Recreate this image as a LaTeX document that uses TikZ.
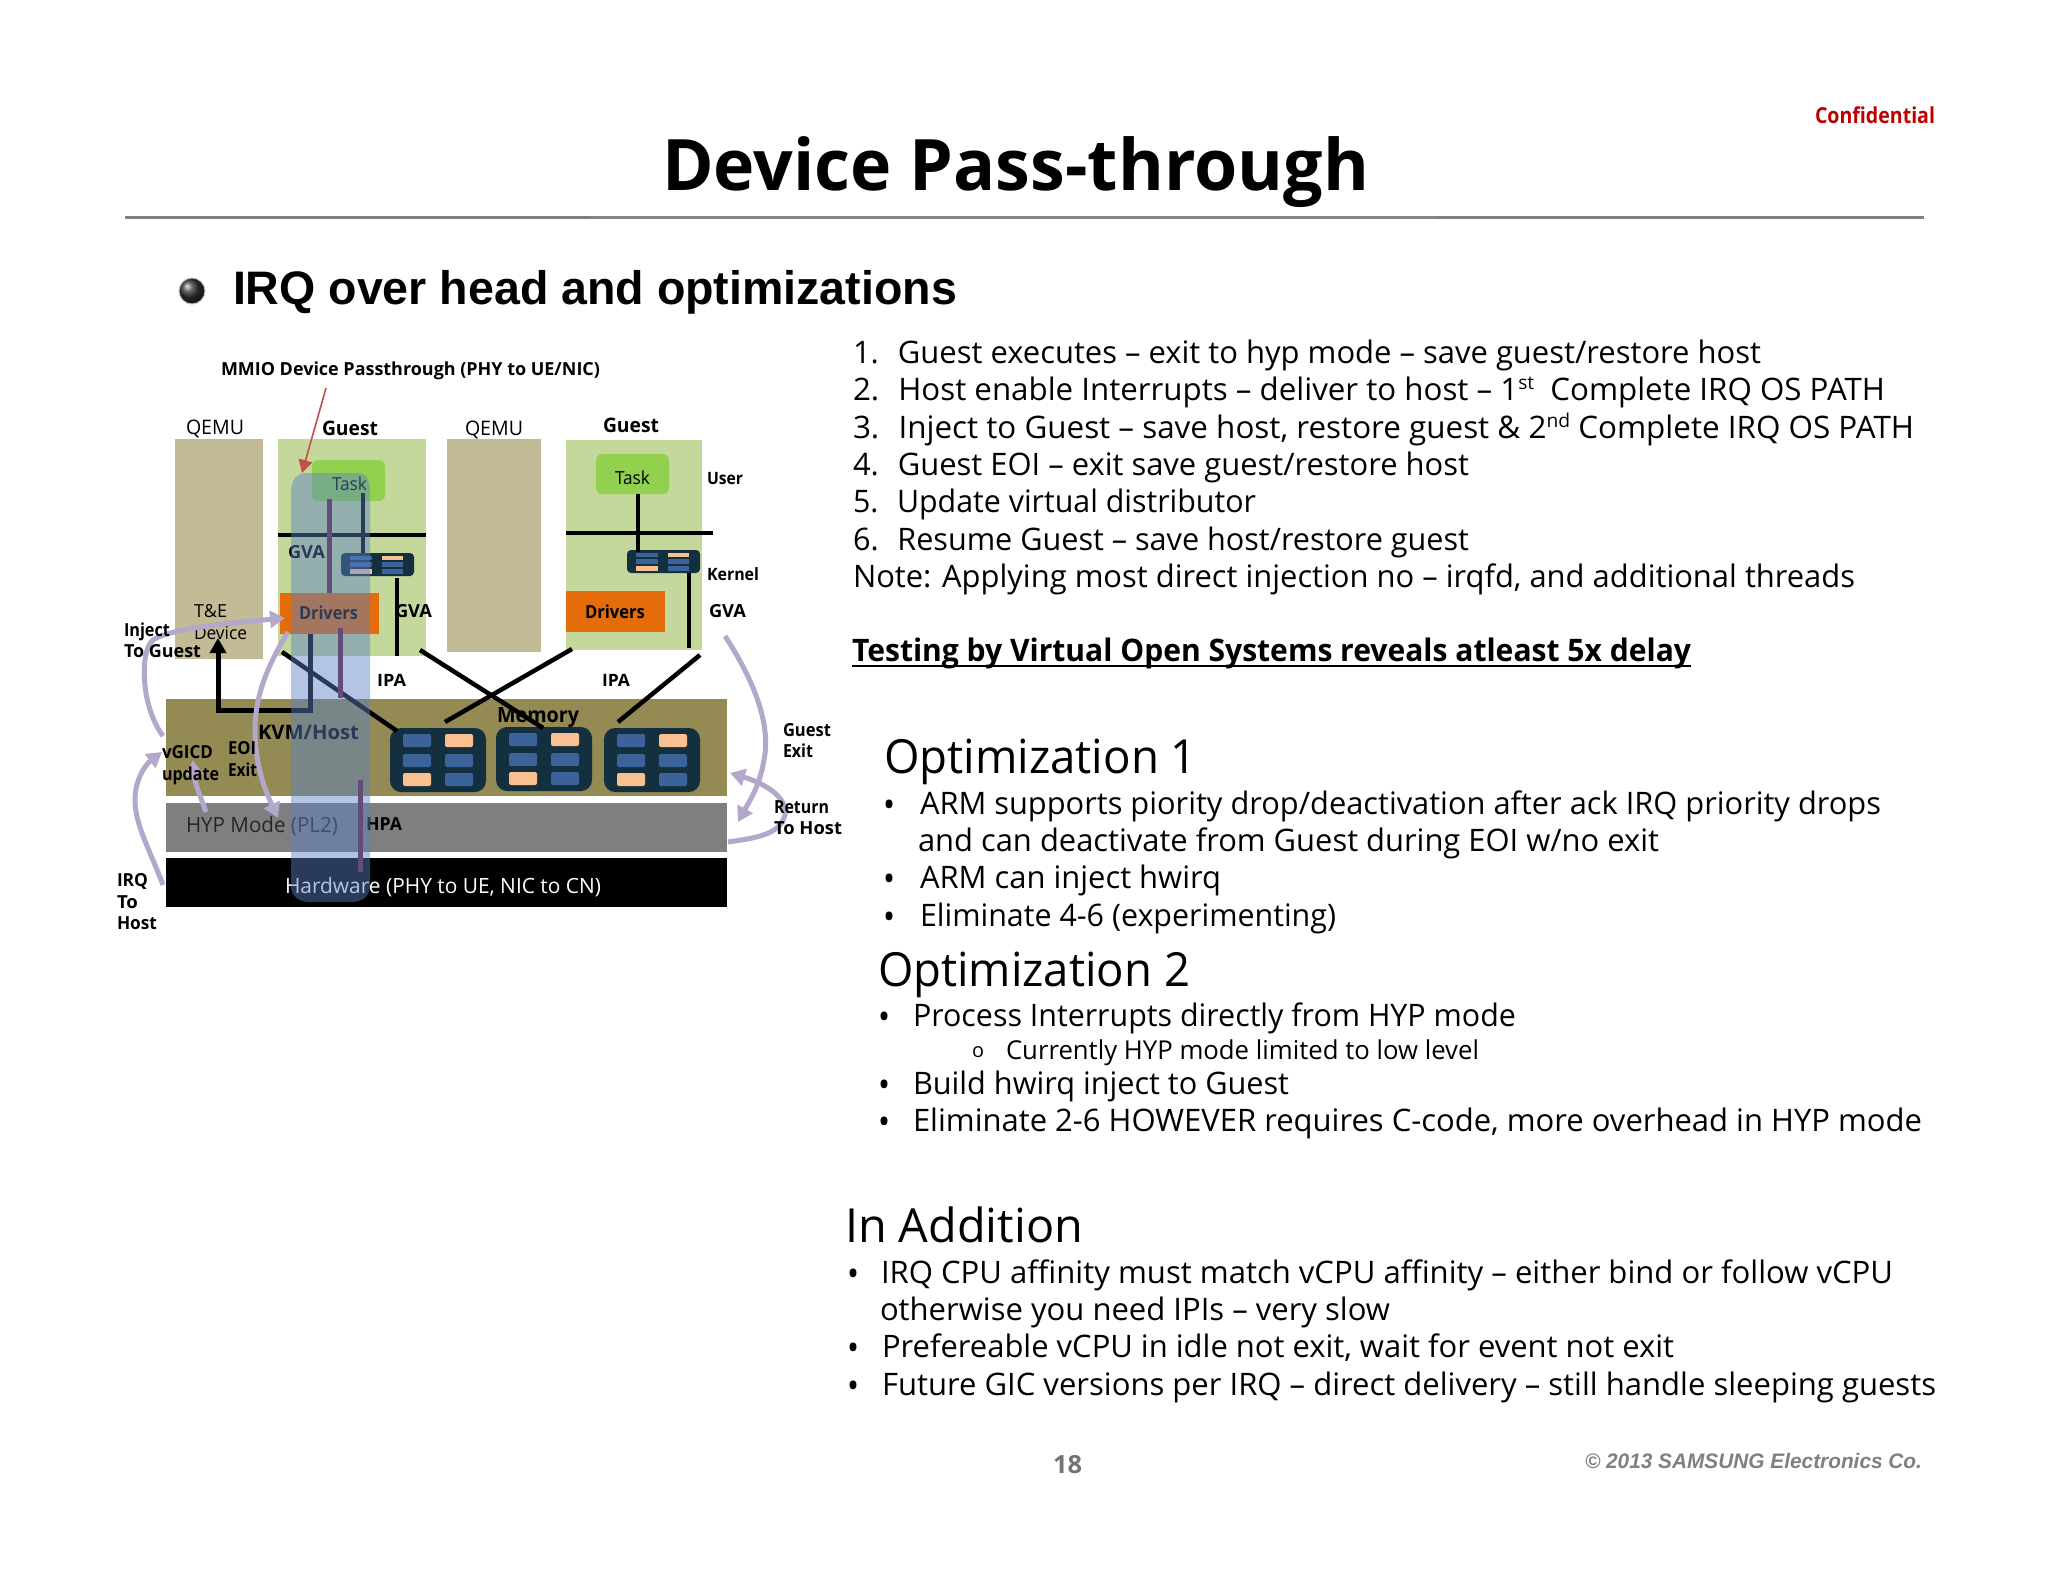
\documentclass[tikz,border=0pt]{standalone}
\usepackage{fontspec}
\setmainfont{Open Sans}
\newfontfamily\arialf{Liberation Sans}
\usetikzlibrary{arrows.meta}
\definecolor{qemuc}{HTML}{C3BB95}
\definecolor{guestc}{HTML}{C5D89C}
\definecolor{taskc}{HTML}{92D050}
\definecolor{orangec}{HTML}{E46C0A}
\definecolor{bandc}{HTML}{948A54}
\definecolor{hypc}{HTML}{7F7F7F}
\definecolor{chipc}{HTML}{14303E}
\definecolor{cellb}{HTML}{3B6399}
\definecolor{cello}{HTML}{FAC090}
\definecolor{arrowc}{HTML}{B3A8CC}
\definecolor{overc}{HTML}{5B82C4}
\definecolor{pline}{HTML}{644C78}
\definecolor{confc}{HTML}{C00000}
\newcommand\fs[1]{\fontsize{#1}{#1}\selectfont}
\newsavebox\fitbox
% name, x, baseline y, x end, font commands, text
\newcommand\tx[6]{%
  \node[anchor=base west,inner sep=0pt,outer sep=0pt] (#1) at (#2,#3) {%
    \sbox\fitbox{#5#6}%
    \pgfmathsetmacro\fitr{(#4-#2)/\the\wd\fitbox}%
    \scalebox{\fitr}[1]{\usebox\fitbox}};}
% name, x1, y1, x2, y2, style
\newcommand\bx[6]{%
  \node[boxn,minimum width={((#4)-(#2))*1pt},minimum height={((#5)-(#3))*1pt},#6] (#1) at ({((#2)+(#4))/2},{((#3)+(#5))/2}) {};}
% full chip: name, x, y
\newcommand\chip[3]{%
  \bx{#1}{#2}{#3}{#2+96}{#3+64}{fill=chipc,rounded corners=11pt}
  \bx{#1a}{#2+13}{#3+6}{#2+41}{#3+19}{cellbs}
  \bx{#1b}{#2+55}{#3+6}{#2+83}{#3+19}{cellos}
  \bx{#1c}{#2+13}{#3+26}{#2+41}{#3+39}{cellbs}
  \bx{#1d}{#2+55}{#3+26}{#2+83}{#3+39}{cellbs}
  \bx{#1e}{#2+13}{#3+45}{#2+41}{#3+58}{cellos}
  \bx{#1f}{#2+55}{#3+45}{#2+83}{#3+58}{cellbs}}
% mini chip
\newcommand\mini[3]{%
  \bx{#1}{#2}{#3}{#2+73}{#3+23}{fill=chipc,rounded corners=4pt}
  \bx{#1a}{#2+9}{#3+3}{#2+31}{#3+7}{fill=cellb}
  \bx{#1b}{#2+41}{#3+3}{#2+62}{#3+7}{fill=cello}
  \bx{#1c}{#2+9}{#3+9}{#2+31}{#3+14}{fill=cellb}
  \bx{#1d}{#2+41}{#3+9}{#2+62}{#3+14}{fill=cellb}
  \bx{#1e}{#2+9}{#3+16}{#2+31}{#3+21}{fill=cello}
  \bx{#1f}{#2+41}{#3+16}{#2+62}{#3+21}{fill=cellb}}
\tikzset{
  boxn/.style={inner sep=0pt,outer sep=0pt,draw=none},
  cellbs/.style={fill=cellb,rounded corners=2pt},
  cellos/.style={fill=cello,rounded corners=2pt},
  blk/.style={line width=4.5pt,black},
  purp/.style={line width=5pt,pline},
  lilac/.style={line width=5pt,arrowc,-{Triangle[length=15pt,width=17pt]}},
}
\begin{document}
\begin{tikzpicture}[x=1pt,y=-1pt]
\fill[white] (0,0) rectangle (2048,1582);
\useasboundingbox (0,0) rectangle (2048,1582);

% ---- title block
\tx{title}{662}{190}{1369}{\bfseries\fs{71}}{Device Pass-through}
\tx{conf}{1815}{123}{1935}{\bfseries\color{confc}\fs{22}}{Confidential}
\coordinate (r1) at (125,217); \coordinate (r2) at (590,217);
\coordinate (r3) at (1438,217); \coordinate (r4) at (1924,217);
\draw[line width=3pt,hypc] (r1) -- (r2);
\draw[line width=3pt,black!48] (r2) -- (r3);
\draw[line width=3pt,hypc] (r3) -- (r4);
\node[circle,minimum size=26pt,inner sep=0pt,draw=black!25,line width=1pt,
  ball color=black!80] (ball) at (192,291) {};
\tx{head}{233}{304}{957}{\arialf\bfseries\fs{47}}{IRQ over head and optimizations}

% ---- diagram boxes
\bx{q1}{175}{439}{263}{659}{fill=qemuc}
\bx{g1}{278}{439}{426}{656}{fill=guestc}
\bx{q2}{447}{439}{541}{652}{fill=qemuc}
\bx{g2}{566}{440}{702}{650}{fill=guestc}
\bx{t1}{312}{460}{385}{501}{fill=taskc,rounded corners=6pt}
\bx{t2}{596}{454}{669}{494}{fill=taskc,rounded corners=6pt}
\bx{d1}{280}{593}{379}{634}{fill=orangec}
\bx{d2}{566}{591}{665}{632}{fill=orangec}
\bx{kvm}{166}{699}{727}{796}{fill=bandc}
\bx{hyp}{166}{803}{727}{852}{fill=hypc}
\bx{hw}{166}{858}{727}{907}{fill=black}

% ---- memory
\chip{ca}{390}{728}
\chip{cb}{496}{727}
\chip{cc}{604}{728}
\mini{ma}{341}{553}
\mini{mb}{627}{550}

% ---- texts in the diagram
\tx{mmio}{221}{375}{600}{\bfseries\fs{18}}{MMIO Device Passthrough (PHY to UE/NIC)}
\tx{lq1}{186}{434}{244}{\fs{20}}{QEMU}
\tx{lg1}{322}{435}{378}{\bfseries\fs{20}}{Guest}
\tx{lq2}{465}{435}{523}{\fs{20}}{QEMU}
\tx{lg2}{603}{432}{659}{\bfseries\fs{20}}{Guest}
\tx{lt1}{332}{490}{367}{\fs{18}}{Task}
\tx{lt2}{615}{484}{650}{\fs{18}}{Task}
\tx{luser}{707}{484}{743}{\bfseries\fs{17}}{User}
\tx{lkern}{707}{580}{759}{\bfseries\fs{17}}{Kernel}
\tx{lgva1}{288}{558}{325}{\bfseries\fs{18}}{GVA}
\tx{lgva2}{395}{617}{432}{\bfseries\fs{18}}{GVA}
\tx{lgva3}{709}{617}{746}{\bfseries\fs{18}}{GVA}
\tx{lte}{194}{617}{227}{\fs{18}}{T\&E}
\tx{ldev}{194}{639}{247}{\fs{18}}{Device}
\tx{ldr1}{299}{619}{358}{\bfseries\fs{18}}{Drivers}
\tx{ldr2}{585}{618}{645}{\bfseries\fs{18}}{Drivers}
\tx{lipa1}{377}{686}{406}{\bfseries\fs{17}}{IPA}
\tx{lipa2}{602}{686}{630}{\bfseries\fs{17}}{IPA}
\tx{lmem}{497}{722}{579}{\bfseries\fs{21}}{Memory}
\tx{lkvm}{258}{739}{359}{\bfseries\fs{20}}{KVM/Host}
\tx{lhyp}{186}{832}{338}{\color{black!85}\fs{21}}{HYP Mode (PL2)}
\tx{lhpa}{366}{830}{402}{\bfseries\fs{18}}{HPA}
\tx{lhw}{285}{893}{601}{\color{white}\fs{21}}{Hardware (PHY to UE, NIC to CN)}
\tx{lirq}{117}{886}{148}{\bfseries\fs{18}}{IRQ}
\tx{lto}{117}{908}{138}{\bfseries\fs{18}}{To}
\tx{lhost}{117}{929}{157}{\bfseries\fs{18}}{Host}
\tx{lge}{783}{736}{831}{\bfseries\fs{18}}{Guest}
\tx{lgx}{783}{757}{813}{\bfseries\fs{18}}{Exit}

% ---- black connectors
\coordinate (h1a) at (278,535); \coordinate (h1b) at (426,535);
\coordinate (h2a) at (566,533); \coordinate (h2b) at (713,533);
\draw[blk] (h1a) -- (h1b);
\draw[blk] (h2a) -- (h2b);
\coordinate (l1a) at (363,493); \coordinate (l1b) at (363,553);
\draw[blk] (l1a) -- (l1b);
\coordinate (l2a) at (397,578); \coordinate (l2b) at (397,656);
\draw[blk] (l2a) -- (l2b);
\coordinate (l3a) at (638,494); \coordinate (l3b) at (638,552);
\draw[blk] (l3a) -- (l3b);
\coordinate (l4a) at (689,573); \coordinate (l4b) at (689,648);
\draw[blk] (l4a) -- (l4b);
\coordinate (dg1a) at (282,652); \coordinate (dg1b) at (397,731);
\draw[blk] (dg1a) -- (dg1b);
\coordinate (dg2a) at (420,650); \coordinate (dg2b) at (543,728);
\draw[blk] (dg2a) -- (dg2b);
\coordinate (dg3a) at (572,649); \coordinate (dg3b) at (445,722);
\draw[blk] (dg3a) -- (dg3b);
\coordinate (dg4a) at (700,655); \coordinate (dg4b) at (618,722);
\draw[blk] (dg4a) -- (dg4b);
\coordinate (ar1) at (310,634); \coordinate (ar2) at (310,710);
\coordinate (ar3) at (218,710); \coordinate (ar4) at (218,638);
\draw[line width=5pt,black,-{Triangle[length=15pt,width=16pt]},line join=miter] (ar1) -- (ar2) -- (ar3) -- (ar4);

% ---- translucent column
\fill[overc,opacity=.46] (291,492) .. controls (291,480) and (297,473) .. (306,473)
  -- (358,473) .. controls (366,473) and (370,480) .. (370,490)
  -- (370,886) .. controls (370,896) and (362,902) .. (352,902)
  -- (309,902) .. controls (299,902) and (291,896) .. (291,886) -- cycle;

% ---- purple connectors
\coordinate (p1a) at (329,499); \coordinate (p1b) at (329,593);
\draw[purp] (p1a) -- (p1b);
\coordinate (p2a) at (340,628); \coordinate (p2b) at (340,698);
\draw[purp] (p2a) -- (p2b);
\coordinate (p3a) at (360,780); \coordinate (p3b) at (360,872);
\draw[purp] (p3a) -- (p3b);

% ---- red arrow
\coordinate (ra) at (326,388); \coordinate (rb) at (302,473);
\draw[line width=1.6pt,color={rgb,255:red,192;green,80;blue,77},-{Triangle[length=13pt,width=14pt]}] (ra) -- (rb);

% ---- lilac arrows
\coordinate (i0) at (163,736); \coordinate (i1) at (153,640); \coordinate (i2) at (285,618);
\draw[lilac] (i0) .. controls (140,705) and (140,650) .. (i1) .. controls (170,628) and (240,622) .. (i2);
\coordinate (e0) at (288,632); \coordinate (e1) at (255,730); \coordinate (e2) at (278,818);
\draw[lilac] (e0) .. controls (268,665) and (255,695) .. (e1) .. controls (255,765) and (265,790) .. (e2);
\coordinate (q0) at (163,885); \coordinate (q1c) at (135,800); \coordinate (q2c) at (162,752);
\draw[lilac] (q0) .. controls (150,850) and (135,825) .. (q1c) .. controls (135,780) and (145,765) .. (q2c);
\coordinate (v0) at (206,812); \coordinate (v1) at (193,760);
\draw[lilac] (v0) .. controls (200,795) and (195,785) .. (v1);
\coordinate (x0) at (725,636); \coordinate (x1) at (764,760); \coordinate (x2) at (738,822);
\draw[lilac] (x0) .. controls (760,690) and (770,730) .. (x1) .. controls (760,785) and (750,800) .. (x2);
\coordinate (b0) at (728,842); \coordinate (b1) at (785,815); \coordinate (b2) at (730,773);
\draw[lilac] (b0) .. controls (755,838) and (780,835) .. (b1) .. controls (788,795) and (760,782) .. (b2);

% ---- labels over the lilac arrows
\tx{linj}{124}{636}{170}{\bfseries\fs{18}}{Inject}
\tx{ltog}{124}{657}{201}{\bfseries\fs{18}}{To Guest}
\tx{lvg}{162}{758}{213}{\bfseries\fs{18}}{vGICD}
\tx{lup}{162}{780}{219}{\bfseries\fs{18}}{update}
\tx{leoi}{228}{754}{256}{\bfseries\fs{18}}{EOI}
\tx{lexit}{228}{776}{257}{\bfseries\fs{18}}{Exit}
\tx{lret}{774}{813}{829}{\bfseries\fs{18}}{Return}
\tx{lth}{774}{834}{842}{\bfseries\fs{18}}{To Host}

% ---- right column
\newcommand\nb{\fs{31}}
\newcommand\bul{\fs{36}}
\begin{scope}[yshift=-1pt]
\tx{n1}{853}{362}{1761}{\nb}{1.\hspace{19pt}Guest executes – exit to hyp mode – save guest/restore host}
\tx{n2}{853}{399}{1885}{\nb}{2.\hspace{19pt}Host enable Interrupts – deliver to host – 1\raisebox{11pt}{\fs{19}st}\hspace{8pt} Complete IRQ OS PATH}
\tx{n3}{853}{437}{1914}{\nb}{3.\hspace{19pt}Inject to Guest – save host, restore guest \& 2\raisebox{11pt}{\fs{19}nd} Complete IRQ OS PATH}
\tx{n4}{853}{474}{1469}{\nb}{4.\hspace{19pt}Guest EOI – exit save guest/restore host}
\tx{n5}{853}{511}{1256}{\nb}{5.\hspace{19pt}Update virtual distributor}
\tx{n6}{853}{549}{1469}{\nb}{6.\hspace{19pt}Resume Guest – save host/restore guest}
\tx{n7}{853}{586}{1855}{\nb}{Note: Applying most direct injection no – irqfd, and additional threads}
\tx{tst}{852}{660}{1691}{\bfseries\nb}{Testing by Virtual Open Systems reveals atleast 5x delay}
\coordinate (u1) at (852,665); \coordinate (u2) at (1691,665);
\draw[line width=2.2pt,black] (u1) -- (u2);

\tx{o1}{884}{772}{1197}{\fs{47}}{Optimization 1}
\tx{b11}{883}{816}{895}{\bul}{•}
\tx{o11}{920}{813}{1881}{\nb}{ARM supports piority drop/deactivation after ack IRQ priority drops}
\tx{o12}{918}{850}{1659}{\nb}{and can deactivate from Guest during EOI w/no exit}
\tx{b12}{883}{890}{895}{\bul}{•}
\tx{o13}{920}{887}{1221}{\nb}{ARM can inject hwirq}
\tx{b13}{883}{928}{895}{\bul}{•}
\tx{o14}{920}{925}{1336}{\nb}{Eliminate 4-6 (experimenting)}

\tx{o2}{878}{985}{1190}{\fs{47}}{Optimization 2}
\tx{b21}{878}{1028}{890}{\bul}{•}
\tx{o21}{913}{1025}{1516}{\nb}{Process Interrupts directly from HYP mode}
\tx{b22}{972}{1056}{984}{\fs{20}}{o}
\tx{o22}{1006}{1058}{1479}{\fs{26}}{Currently HYP mode limited to low level}
\tx{b23}{878}{1096}{890}{\bul}{•}
\tx{o23}{913}{1093}{1289}{\nb}{Build hwirq inject to Guest}
\tx{b24}{878}{1133}{890}{\bul}{•}
\tx{o24}{913}{1130}{1922}{\nb}{Eliminate 2-6 HOWEVER requires C-code, more overhead in HYP mode}

\tx{add}{845}{1241}{1083}{\fs{47}}{In Addition}
\tx{b31}{847}{1285}{859}{\bul}{•}
\tx{a1}{881}{1282}{1893}{\nb}{IRQ CPU affinity must match vCPU affinity – either bind or follow vCPU}
\tx{a2}{880}{1319}{1390}{\nb}{otherwise you need IPIs – very slow}
\tx{b32}{847}{1359}{859}{\bul}{•}
\tx{a3}{882}{1356}{1674}{\nb}{Prefereable vCPU in idle not exit, wait for event not exit}
\tx{b33}{847}{1397}{859}{\bul}{•}
\tx{a4}{882}{1394}{1936}{\nb}{Future GIC versions per IRQ – direct delivery – still handle sleeping guests}
\end{scope}

\tx{pg}{1053}{1473}{1082}{\bfseries\color{black!55}\fs{25}}{18}
\tx{copy}{1585}{1468}{1922}{\arialf\bfseries\itshape\color{black!50}\fs{21}}{© 2013 SAMSUNG Electronics Co.}
\end{tikzpicture}
\end{document}
